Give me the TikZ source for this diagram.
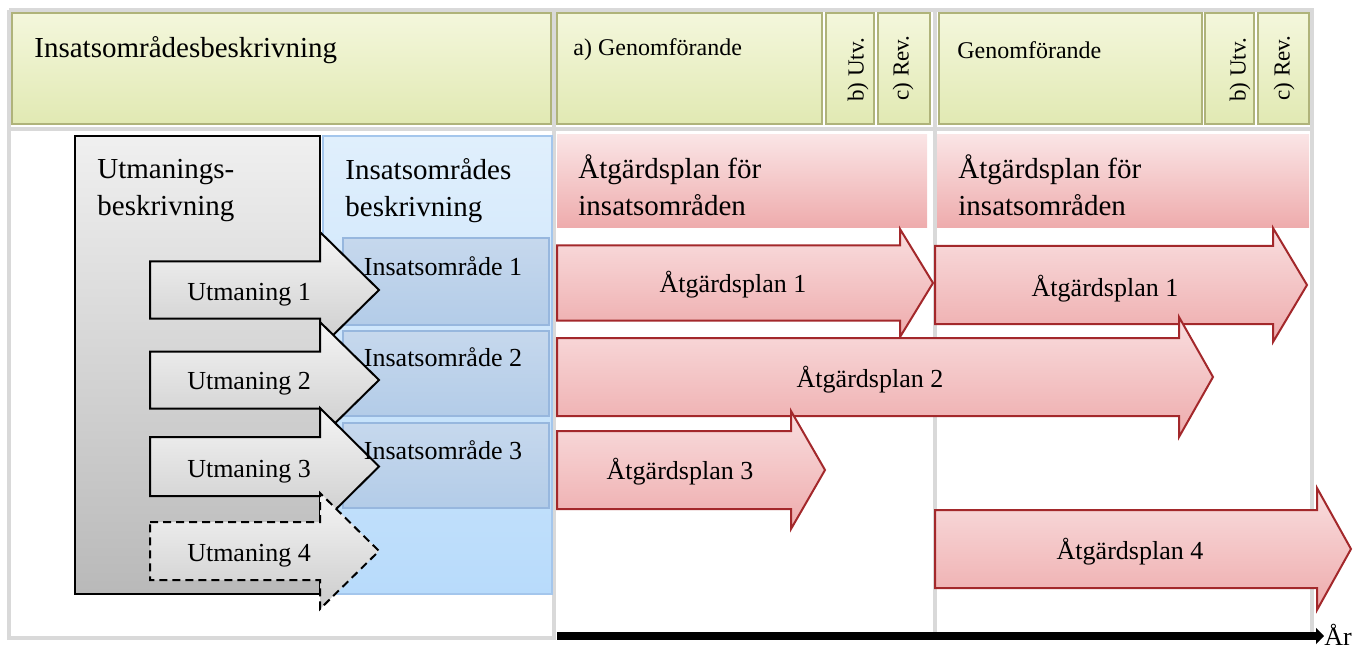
\documentclass[tikz,border=0pt]{standalone}
\usepackage{fontspec}
\setmainfont{Liberation Serif}
\usetikzlibrary{arrows.meta}

\definecolor{gridgray}{HTML}{D9D9D9}
\definecolor{yelTop}{HTML}{F4F7DC}
\definecolor{yelBot}{HTML}{E1E9B3}
\definecolor{yelLine}{HTML}{AFB37A}
\definecolor{pinkTop}{HTML}{F9DEDF}
\definecolor{pinkBot}{HTML}{EEABAC}
\definecolor{redLine}{HTML}{A3282B}
\definecolor{blueTop}{HTML}{E0EFFC}
\definecolor{blueBot}{HTML}{B8DBFB}
\definecolor{blueLine}{HTML}{A4C6EC}
\definecolor{insTop}{HTML}{C6D8ED}
\definecolor{insBot}{HTML}{B3CCE8}
\definecolor{insLine}{HTML}{97B7DE}

% [style]{x start}{x head}{x tip}{y centre}{half shaft}{half head}
\newcommand{\blockarrow}[7][]{%
  \path[#1] (#2,#5-#6) -- (#3,#5-#6) -- (#3,#5-#7) -- (#4,#5) -- (#3,#5+#7) -- (#3,#5+#6) -- (#2,#5+#6) -- cycle;}

\begin{document}
\begin{tikzpicture}[x=0.5pt,y=-0.5pt,
	tablegrid/.style={draw=gridgray,line width=2pt},
	ycell/.style={draw=yelLine,line width=1pt,top color=yelTop,bottom color=yelBot},
	gbox/.style={draw=black,line width=1pt,top color=gray!12,bottom color=gray!55},
	garrow/.style={draw=black,line width=1pt,top color=gray!8,bottom color=gray!40},
	bbox/.style={draw=blueLine,line width=0.8pt,top color=blueTop,bottom color=blueBot},
	ibox/.style={draw=insLine,line width=0.8pt,top color=insTop,bottom color=insBot},
	rhead/.style={top color=pinkTop!80!white,bottom color=pinkBot},
	rarrow/.style={draw=redLine,line width=1pt,top color=pinkTop,bottom color=pinkBot},
	bigtxt/.style={font=\fontsize{14.5}{18.5}\selectfont,inner sep=0pt,align=left},
	midtxt/.style={font=\fontsize{13}{16}\selectfont,inner sep=0pt},
	smalltxt/.style={font=\fontsize{12}{14}\selectfont,inner sep=0pt},
	rottxt/.style={font=\fontsize{11.5}{13}\selectfont,inner sep=0pt,rotate=90}]
	\useasboundingbox (0,0) rectangle (1354,652);

	\draw[tablegrid] (9,10) -- (1312,10) -- (1312,636) (9,10) -- (9,638) -- (556,638);
	\draw[tablegrid] (9,129) -- (1312,129) (554,10) -- (554,636) (935,10) -- (935,636);

	\path[ycell] (12,13) rectangle (551,124);
	\path[ycell] (557,13) rectangle (822,124);
	\path[ycell] (826,13) rectangle (874,124);
	\path[ycell] (878,13) rectangle (930,124);
	\path[ycell] (939,13) rectangle (1202,124);
	\path[ycell] (1205,13) rectangle (1254,124);
	\path[ycell] (1258,13) rectangle (1309,124);

	\node[bigtxt,anchor=west]    (TopTitle)  at (34,50)   {Insatsområdesbeskrivning};
	\node[smalltxt,anchor=west]  (GenomA)    at (573,50)  {a) Genomförande};
	\node[rottxt]                (UtvA)      at (858,70)  {b) Utv.};
	\node[rottxt]                (RevA)      at (903,68)  {c) Rev.};
	\node[smalltxt,anchor=west]  (GenomB)    at (957,50)  {Genomförande};
	\node[rottxt]                (UtvB)      at (1240,70) {b) Utv.};
	\node[rottxt]                (RevB)      at (1284,68) {c) Rev.};

	\path[gbox] (75,136) rectangle (320,594);
	\path[bbox] (323,136) rectangle (552,594);
	\path[ibox] (343,238) rectangle (549,325);
	\path[ibox] (343,331) rectangle (549,416);
	\path[ibox] (343,423) rectangle (549,508);

	\node[bigtxt,anchor=north west] (UtmBeskr) at (97,159)  {Utmanings-\\beskrivning};
	\node[bigtxt,anchor=north west] (InsBeskr) at (345,158) {Insatsområdes\\beskrivning};

	\blockarrow[garrow]{150}{320}{379}{290}{28.5}{58}
	\blockarrow[garrow]{150}{320}{379}{380}{28.5}{58}
	\blockarrow[garrow]{150}{320}{379}{466.5}{29.5}{58.5}
	\blockarrow[garrow,dash pattern=on 4pt off 2.5pt]{150}{320}{379}{551}{29}{58}

	\node[midtxt] (Utm1) at (249,295) {Utmaning 1};
	\node[midtxt] (Utm2) at (249,384) {Utmaning 2};
	\node[midtxt] (Utm3) at (249,472) {Utmaning 3};
	\node[midtxt] (Utm4) at (249,556) {Utmaning 4};

	\node[midtxt] (Ins1) at (443,266) {Insatsområde 1};
	\node[midtxt] (Ins2) at (443,357) {Insatsområde 2};
	\node[midtxt] (Ins3) at (443,450) {Insatsområde 3};

	\path[rhead] (557,135) rectangle (927,228);
	\path[rhead] (937,135) rectangle (1309,228);
	\node[bigtxt,anchor=north west] (PlanHeadA) at (578,154) {Åtgärdsplan för\\insatsområden};
	\node[bigtxt,anchor=north west] (PlanHeadB) at (958,154) {Åtgärdsplan för\\insatsområden};

	\blockarrow[rarrow]{557}{900}{933}{283}{37.5}{54}
	\blockarrow[rarrow]{935}{1273}{1307}{285}{39}{57}
	\blockarrow[rarrow]{557}{1179}{1213}{377}{39}{60}
	\blockarrow[rarrow]{557}{791}{825}{470}{39}{59}
	\blockarrow[rarrow]{935}{1317}{1351}{549}{39}{61}

	\node[midtxt] (Plan1A) at (733,285)  {Åtgärdsplan 1};
	\node[midtxt] (Plan1B) at (1105,289) {Åtgärdsplan 1};
	\node[midtxt] (Plan2)  at (870,380)  {Åtgärdsplan 2};
	\node[midtxt] (Plan3)  at (680,472)  {Åtgärdsplan 3};
	\node[midtxt] (Plan4)  at (1130,552) {Åtgärdsplan 4};

	\node[midtxt,anchor=base west] (Year) at (1324,645) {År};
	\coordinate (AxisStart) at (557,636);
	\draw[line width=4pt,-{Triangle[length=4pt,width=8pt]}] (AxisStart) -- (Year.west |- AxisStart);
\end{tikzpicture}
\end{document}
